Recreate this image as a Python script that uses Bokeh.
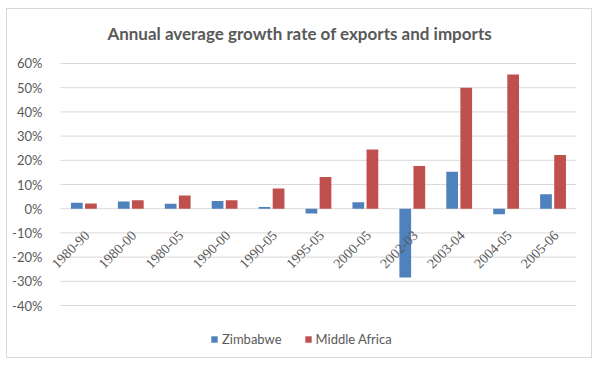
import math
from bokeh.plotting import figure
from bokeh.models import (ColumnDataSource, Range1d, FixedTicker, LinearAxis,
                          NumeralTickFormatter, Label, LabelSet, Legend, LegendItem)
from bokeh.embed import file_html
from bokeh.resources import INLINE

periods = ["1980-90", "1980-00", "1980-05", "1990-00", "1990-05", "1995-05",
           "2000-05", "2002-03", "2003-04", "2004-05", "2005-06"]
zimbabwe = [0.025, 0.030, 0.020, 0.032, 0.007, -0.020, 0.027, -0.284, 0.153, -0.023, 0.060]
middle_africa = [0.022, 0.035, 0.055, 0.035, 0.083, 0.131, 0.245, 0.176, 0.500, 0.555, 0.222]
y_ticks = [-0.4, -0.3, -0.2, -0.1, 0.0, 0.1, 0.2, 0.3, 0.4, 0.5, 0.6]

FONT = "Lato"
GREY = "#595959"
GRID = "#d9d9d9"
BLUE = "#4f81bd"
RED = "#c0504d"

n = len(periods)
centers = [i + 0.5 for i in range(n)]
src = ColumnDataSource(dict(cat=periods, xc=centers,
                            xz=[c - 0.15 for c in centers],
                            xm=[c + 0.15 for c in centers],
                            zim=zimbabwe, mid=middle_africa, zero=[0.0] * n))
grid_src = ColumnDataSource(dict(y=y_ticks, x0=[0] * len(y_ticks), x1=[n] * len(y_ticks)))

W, H = 586, 350
p = figure(width=W, height=H, x_range=Range1d(-53 / 47, n),
           y_range=Range1d(-0.6231, 0.8231), output_backend="svg",
           toolbar_location=None, min_border_left=0, min_border_right=17,
           min_border_top=0, min_border_bottom=0,
           x_axis_location=None, y_axis_location=None)
p.styles = {"border": "1px solid #d9d9d9", "margin-left": "6px", "margin-top": "8px"}
p.outline_line_color = None
p.background_fill_color = "white"
p.border_fill_color = "white"
p.xgrid.visible = False
p.ygrid.visible = False

# horizontal gridlines only over the plot area
p.segment(x0="x0", x1="x1", y0="y", y1="y", source=grid_src,
          line_color=GRID, line_width=1)

r1 = p.vbar(x="xz", top="zim", width=0.25, source=src, fill_color=BLUE, line_color=None)
r2 = p.vbar(x="xm", top="mid", width=0.25, source=src, fill_color=RED, line_color=None)

# y axis at the left edge of the plot area
yaxis = LinearAxis(fixed_location=0, ticker=FixedTicker(ticks=y_ticks),
                   formatter=NumeralTickFormatter(format="0%"))
yaxis.axis_line_color = None
yaxis.major_tick_line_color = None
yaxis.minor_tick_line_color = None
yaxis.major_label_standoff = 12
yaxis.major_label_text_font = FONT
yaxis.major_label_text_font_size = "13px"
yaxis.major_label_text_color = GREY
p.add_layout(yaxis, "left")

# category labels hanging from the 0% line
cat_labels = LabelSet(x="xc", y="zero", text="cat", source=src, angle=math.pi / 4,
                      text_align="right", text_baseline="middle", x_offset=3, y_offset=-24,
                      text_font=FONT, text_font_size="14px", text_color=GREY)
p.add_layout(cat_labels)

title = Label(x=5.1, y=0.7239, text="Annual average growth rate of exports and imports",
              text_align="center", text_baseline="middle", text_font=FONT,
              text_font_size="17px", text_font_style="bold", text_color=GREY)
p.add_layout(title)

legend = Legend(items=[LegendItem(label="Zimbabwe", renderers=[r1]),
                       LegendItem(label="Middle Africa", renderers=[r2])],
                location=(203, 12), orientation="horizontal",
                glyph_width=8, glyph_height=8, spacing=22, padding=0,
                label_text_font=FONT, label_text_font_size="13px",
                label_text_color=GREY, border_line_color=None,
                background_fill_alpha=0, label_standoff=4)
p.add_layout(legend)

open("out.html", "w").write(file_html(p, INLINE))
